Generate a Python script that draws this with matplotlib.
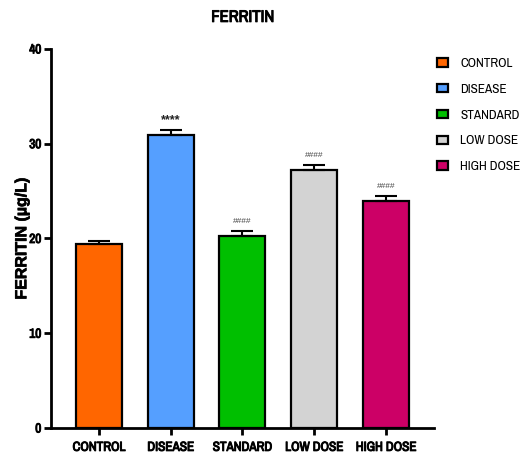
import matplotlib
matplotlib.use("Agg")
import matplotlib.pyplot as plt
import matplotlib.patheffects as pe
from matplotlib.patches import Patch
from matplotlib import font_manager

groups = ["CONTROL", "DISEASE", "STANDARD", "LOW DOSE", "HIGH DOSE"]
means = [19.45, 30.92, 20.26, 27.2, 23.96]
sems = [0.3, 0.55, 0.5, 0.5, 0.5]
marks = ["", "****", "####", "####", "####"]
colors = ["#FF6600", "#559FFF", "#00BF00", "#D3D3D3", "#CC0066"]
yticks = [0, 10, 20, 30, 40]

# prefer a condensed sans face when one is installed
fonts = font_manager.fontManager.ttflist
names = {f.name for f in fonts}
if "Liberation Sans Narrow" in names:
    narrow = "Liberation Sans Narrow"
else:
    cands = sorted(n for n in names if "narrow" in n.lower() or "condensed" in n.lower())
    narrow = cands[0] if cands else "Liberation Sans"

# light outline thickens the condensed face into a heavy look
heavy = [pe.withStroke(linewidth=0.7, foreground="black")]

fig = plt.figure(figsize=(5.31, 4.57), dpi=100)
ax = fig.add_axes([0.096, 0.0635, 0.721, 0.8295])

x = list(range(len(groups)))
ax.bar(x, means, width=0.64, color=colors, edgecolor="black", linewidth=1.6, zorder=2)
ax.errorbar(x, means, yerr=[[0] * len(sems), sems], fmt="none", ecolor="black",
            elinewidth=1.5, capsize=8, capthick=1.5, zorder=3)

for xi, m, s, t in zip(x, means, sems, marks):
    if t == "****":
        ax.text(xi, m + s + 0.35, t, ha="center", va="bottom", fontsize=9,
                family="Liberation Sans", color="#222222", fontweight="bold")
    elif t:
        ax.text(xi, m + s + 0.7, t, ha="center", va="bottom", fontsize=6,
                family="Liberation Sans", color="#444444")

ax.set_xlim(-0.667, 4.667)
ax.set_ylim(0, 40)
ax.set_yticks(yticks)
ax.set_xticks(x)
ax.set_xticklabels(groups)
for lbl in ax.get_xticklabels() + ax.get_yticklabels():
    lbl.set_family(narrow)
    lbl.set_fontweight("bold")
    lbl.set_fontsize(9.5)
    lbl.set_path_effects(heavy)

for side in ["top", "right"]:
    ax.spines[side].set_visible(False)
for side in ["left", "bottom"]:
    ax.spines[side].set_linewidth(2)
ax.tick_params(axis="both", direction="out", length=5, width=2, pad=2)
ax.tick_params(axis="x", pad=5)

ax.set_ylabel("FERRITIN (µg/L)", fontweight="bold", fontsize=11.5,
              family="Liberation Sans", labelpad=0,
              path_effects=[pe.withStroke(linewidth=0.5, foreground="black")])
fig.text(0.4567, 0.962, "FERRITIN", ha="center", va="center",
         fontweight="bold", fontsize=12, family=narrow, path_effects=heavy)

handles = [Patch(facecolor=c, edgecolor="black", linewidth=1.6) for c in colors]
leg = fig.legend(handles, groups, loc="upper left", bbox_to_anchor=(0.806, 0.893),
                 frameon=False, handlelength=0.8, handleheight=0.6,
                 labelspacing=1.12, handletextpad=0.95, borderpad=0.2,
                 prop={"family": narrow, "size": 9.5})

fig.savefig("out.png", dpi=100)
